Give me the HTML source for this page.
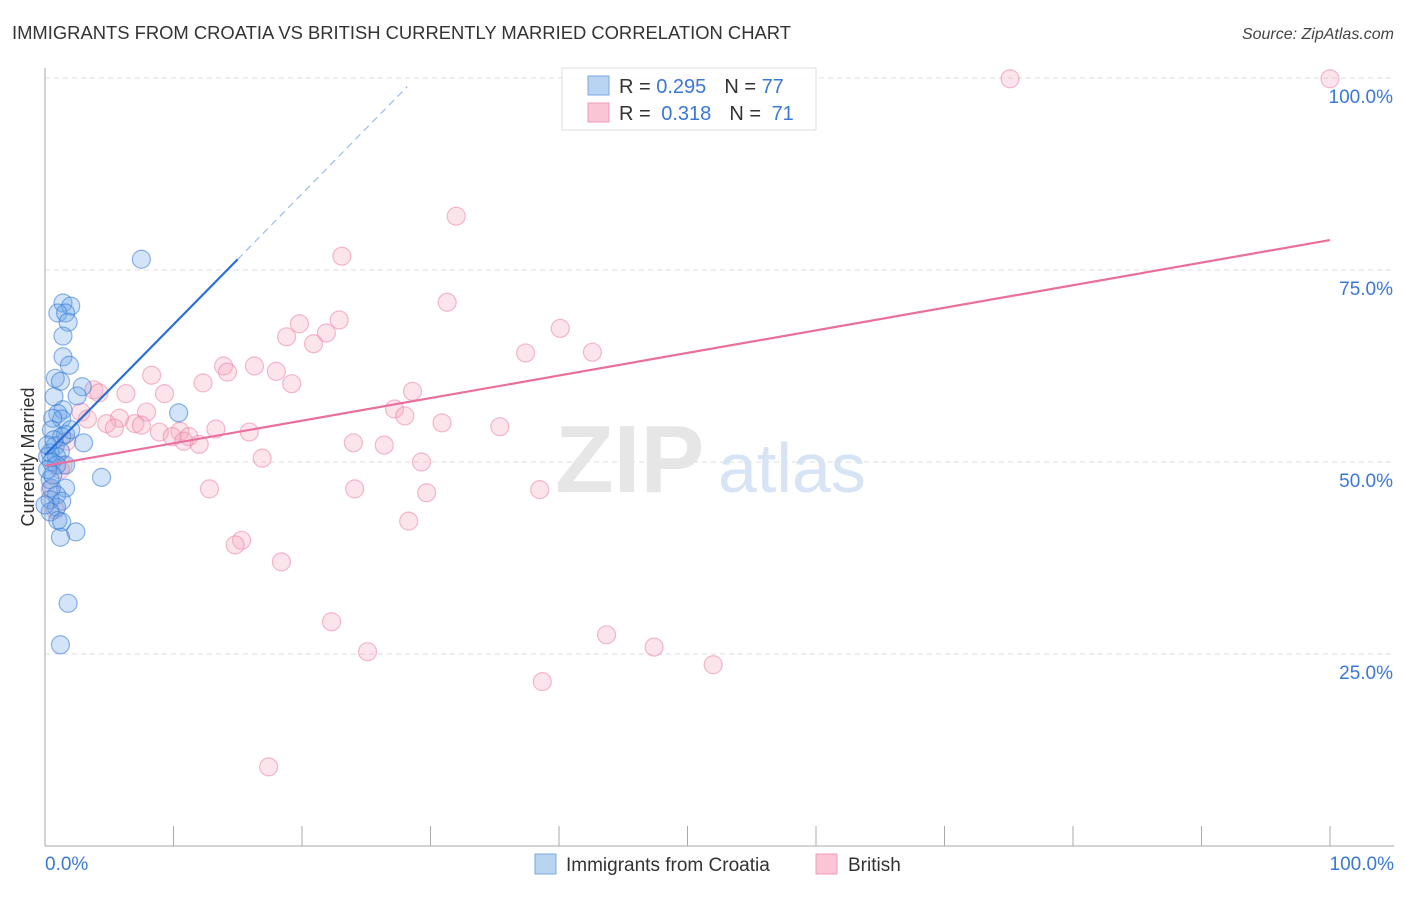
<!DOCTYPE html>
<html><head><meta charset="utf-8"><style>
body{margin:0;background:#fff;font-family:"Liberation Sans",sans-serif;}
svg text{font-family:"Liberation Sans",sans-serif;}
</style></head><body>
<svg id="chart" width="1406" height="892" viewBox="0 0 1406 892" xmlns="http://www.w3.org/2000/svg">
<text x="12" y="39" font-size="18.4" fill="#333">IMMIGRANTS FROM CROATIA VS BRITISH CURRENTLY MARRIED CORRELATION CHART</text>
<text x="1394" y="39" font-size="16" fill="#444" text-anchor="end" font-style="italic">Source: ZipAtlas.com</text>
<g id="grid"></g>
<g>
<text x="555" y="492" font-size="96" fill="#e6e6e6" font-family="Liberation Serif" font-weight="bold">ZIP</text>
<text x="718" y="492" font-size="70" fill="#d6e4f5">atlas</text>
</g>
<g id="axes"></g>
<g id="pink"></g>
<g id="blue"></g>
<g id="lines"></g>
<text transform="translate(34,457) rotate(-90)" font-size="18" fill="#333" text-anchor="middle">Currently Married</text>
<g>
<rect x="562" y="68" width="254" height="62" fill="#fff" fill-opacity="0.85" stroke="#ddd"/>
<rect x="588" y="76" width="21" height="19" fill="#b9d3f3" stroke="#7aa8e6"/>
<rect x="588" y="103" width="21" height="19" fill="#fac6d5" stroke="#f09ab4"/>
<text x="619" y="93" font-size="20" fill="#333">R = <tspan fill="#3a78d6">0.295</tspan><tspan dx="18">N = </tspan><tspan fill="#3a78d6">77</tspan></text>
<text x="619" y="120" font-size="20" fill="#333">R = <tspan dx="5" fill="#3a78d6">0.318</tspan><tspan dx="18">N = </tspan><tspan dx="5" fill="#3a78d6">71</tspan></text>
</g>
<g>
<rect x="535" y="854" width="21" height="20" fill="#b9d3f3" stroke="#7aa8e6"/>
<text x="566" y="871" font-size="19" fill="#333">Immigrants from Croatia</text>
<rect x="816" y="854" width="21" height="20" fill="#fac6d5" stroke="#f09ab4"/>
<text x="848" y="871" font-size="19" fill="#333">British</text>
</g>
</svg>
<script>
const blueX=[7.5,1.4,2.0,1.0,1.6,1.8,1.4,1.4,1.9,0.8,1.2,2.9,0.7,2.5,10.4,1.4,1.0,1.3,0.6,0.5,1.6,1.3,3.0,0.8,1.2,0.4,0.2,0.9,0.5,1.6,0.9,4.4,0.4,1.6,0.5,0.9,0.4,1.3,0.9,0.4,1.0,1.3,2.4,1.2,1.8,1.2,0.2,0.6,0,0.7,2.0,0.2];
const blueY=[76.4,70.7,70.3,69.4,69.4,68.2,66.4,63.7,62.6,60.9,60.5,59.8,58.5,58.6,56.4,56.8,56.3,55.6,55.7,54.2,53.6,53.3,52.5,52.1,51.4,51.2,50.7,50.7,50.0,49.6,49.6,48.0,47.7,46.6,46.6,45.7,45.1,44.9,44.1,43.5,42.4,42.2,40.9,40.2,31.6,26.2,49.0,48.3,44.4,52.9,54.2,52.2];
const pinkX=[75.1,100,50.0,32.0,23.1,31.3,22.9,19.8,21.9,18.8,20.9,40.1,37.4,42.6,13.9,16.3,14.2,18.0,8.3,12.3,19.2,3.8,4.2,6.3,9.3,28.6,2.8,7.9,27.2,28.0,3.3,5.8,4.8,7.0,7.5,5.4,30.9,35.4,8.9,10.5,13.3,15.9,9.9,11.2,10.8,12.0,24.0,26.4,1.7,16.9,29.3,1.4,12.8,24.1,29.7,38.5,28.3,15.3,14.8,18.4,22.3,25.1,43.7,47.4,52.0,38.7,17.4,0.4,0.8,1.2];
const pinkY=[99.9,99.9,99.2,82.0,76.8,70.8,68.5,68.0,66.8,66.3,65.4,67.4,64.2,64.3,62.5,62.5,61.7,61.8,61.3,60.3,60.2,59.4,59.0,58.9,58.9,59.2,56.5,56.5,56.9,56.0,55.6,55.7,55.0,55.0,54.8,54.4,55.1,54.6,53.9,54.0,54.3,53.9,53.3,53.3,52.7,52.3,52.5,52.2,52.7,50.5,50.0,49.6,46.5,46.5,46.0,46.4,42.3,39.8,39.2,37.0,29.2,25.3,27.5,25.9,23.6,21.4,10.3,46.4,43.8,49.0];
const yTicks=[25,50,75,100];
const yTickLabels=["25.0%","50.0%","75.0%","100.0%"];
const xTicks=[0,10,20,30,40,50,60,70,80,90,100];
const blueTrend=[0,50.9,15,76.4,28.2,98.9];
const pinkTrend=[0,49.5,100,78.9];
const NS="http://www.w3.org/2000/svg";
const sx=v=>45+v*12.85, sy=v=>846-v*7.68;
function mk(tag,attrs,parent){const e=document.createElementNS(NS,tag);for(const k in attrs)e.setAttribute(k,attrs[k]);parent.appendChild(e);return e;}
const grid=document.getElementById('grid'),axes=document.getElementById('axes');
yTicks.forEach((t,i)=>{
 const l=mk('line',{x1:45,x2:1394,y1:sy(t),y2:sy(t),stroke:'#ddd','stroke-dasharray':'5,4'},grid);
 
 
 const tx=mk('text',{x:1393,y:sy(t)+25,'font-size':19,fill:'#3a78d6','text-anchor':'end'},axes);
 tx.textContent=yTickLabels[i];
 
 
});
const ax=mk('line',{x1:45,x2:45,y1:68,y2:846,stroke:'#aaa'},axes);


const bx=mk('line',{x1:45,x2:1394,y1:846,y2:846,stroke:'#aaa'},axes);


xTicks.forEach(t=>{
 const l=mk('line',{x1:sx(t),x2:sx(t),y1:826,y2:846,stroke:'#aaa'},axes);
 
 
});
[[0,'0.0%','start',45],[100,'100.0%','end',1394]].forEach(a=>{
 const tx=mk('text',{x:a[3],y:870,'font-size':19,fill:'#3a78d6','text-anchor':a[2]},axes);
 tx.textContent=a[1];
 
 
});
const pg=document.getElementById('pink');
pinkX.forEach((x,i)=>{const c=mk('circle',{cx:sx(x),cy:sy(pinkY[i]),r:9,fill:'rgba(246,166,190,0.3)',stroke:'rgba(236,130,165,0.55)','stroke-width':1.2},pg);
 
 });
const bg=document.getElementById('blue');
blueX.forEach((x,i)=>{const c=mk('circle',{cx:sx(x),cy:sy(blueY[i]),r:9,fill:'rgba(110,165,232,0.3)',stroke:'rgba(50,120,215,0.55)','stroke-width':1.2},bg);
 
 });
const lg=document.getElementById('lines');
const b1=mk('line',{x1:sx(blueTrend[0]),y1:sy(blueTrend[1]),x2:sx(blueTrend[2]),y2:sy(blueTrend[3]),stroke:'#2a6fd6','stroke-width':2.2},lg);


const b2=mk('line',{x1:sx(blueTrend[2]),y1:sy(blueTrend[3]),x2:sx(blueTrend[4]),y2:sy(blueTrend[5]),stroke:'#9bbce8','stroke-width':1.2,'stroke-dasharray':'7,5'},lg);


const p1=mk('line',{x1:sx(pinkTrend[0]),y1:sy(pinkTrend[1]),x2:sx(pinkTrend[2]),y2:sy(pinkTrend[3]),stroke:'#e8709a','stroke-width':2.2},lg);


</script>
</body></html>
